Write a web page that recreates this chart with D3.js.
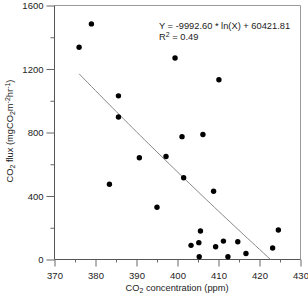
<!DOCTYPE html>
<html><head><meta charset="utf-8">
<script src="https://cdn.jsdelivr.net/npm/d3@7"></script>
<style>body{margin:0;background:#fff}svg{display:block}text{font-family:"Liberation Sans",Arial,sans-serif;fill:#222}</style>
</head><body><svg id="c" width="308" height="296"></svg>
<script>
const co2Conc = [379.0,376.0,385.6,385.6,399.4,410.1,401.1,406.2,383.4,390.7,397.2,395.0,401.5,408.8,405.6,403.3,405.2,405.3,409.3,411.2,412.3,414.7,416.7,423.2,424.6];
const co2Flux = [1484,1337,1031,898,1269,1132,774,787,474,641,649,329,515,430,180,89,106,17,80,116,17,112,38,72,186];
const xTicks = [370,380,390,400,410,420,430];
const yTicks = [0,400,800,1200,1600];
const fitA = -9992.60, fitB = 60421.81, fitR2 = 0.49;
const fitXStart = 376;

const svg = d3.select("#c");
const x = d3.scaleLinear().domain([370,430]).range([54.5,300.5]);
const y = d3.scaleLinear().domain([0,1600]).range([259.5,5.5]);

svg.append("line").attr("x1",x(370)).attr("x2",x(430)).attr("y1",y(1600)).attr("y2",y(1600)).attr("stroke","#999").attr("stroke-width",1);
svg.append("line").attr("x1",x(430)).attr("x2",x(430)).attr("y1",y(1600)).attr("y2",y(0)).attr("stroke","#999").attr("stroke-width",1);

const minorX = d3.range(375,430,10);
const minorY = d3.range(200,1600,400);

const gx = svg.append("g").attr("transform",`translate(0,${y(0)})`)
  .call(d3.axisBottom(x).tickValues(xTicks).tickSize(7).tickPadding(6).tickFormat(d3.format("d")));
const gxm = svg.append("g").attr("transform",`translate(0,${y(0)})`)
  .call(d3.axisBottom(x).tickValues(minorX).tickSize(3).tickFormat(""));
const gy = svg.append("g").attr("transform",`translate(${x(370)},0)`)
  .call(d3.axisLeft(y).tickValues(yTicks).tickSize(8).tickPadding(3).tickFormat(d3.format("d")));
const gym = svg.append("g").attr("transform",`translate(${x(370)},0)`)
  .call(d3.axisLeft(y).tickValues(minorY).tickSize(4).tickFormat(""));
[gx,gxm,gy,gym].forEach(g=>{
  g.selectAll("path,line").attr("stroke","#666");
  g.select(".domain").attr("stroke","#555");
  g.selectAll("text").style("font-family","'Liberation Sans',Arial,sans-serif").style("font-size","9.5px").attr("fill","#333");
});
gx.select(".domain").attr("d",`M${x(370)},0H${x(430)}`);
gxm.select(".domain").remove();
gy.select(".domain").attr("d",`M0,${y(0)}V${y(1600)}`);
gym.select(".domain").remove();

const xEnd = Math.exp(fitB/(-fitA));
const fx = d3.range(fitXStart, xEnd, 1).concat([xEnd]);
svg.append("path")
  .attr("d", d3.line().x(d=>x(d)).y(d=>y(fitA*Math.log(d)+fitB))(fx))
  .attr("fill","none").attr("stroke","#888").attr("stroke-width",1);

svg.append("g").selectAll("circle").data(co2Conc).join("circle")
  .attr("cx",d=>x(d)).attr("cy",(d,i)=>y(co2Flux[i])).attr("r",2.7).attr("fill","#000");

svg.append("text").attr("x",159).attr("y",28.5).style("font-size","9.3px")
  .text(`Y = ${fitA.toFixed(2)} * ln(X) + ${fitB.toFixed(2)}`);
const r2 = svg.append("text").attr("x",159).attr("y",39.5).style("font-size","9.3px");
r2.append("tspan").text("R");
r2.append("tspan").attr("dy",-3).style("font-size","7px").text("2");
r2.append("tspan").attr("dy",3).text(` = ${fitR2.toFixed(2)}`);

const xt = svg.append("text").attr("x",177).attr("y",291).attr("text-anchor","middle").style("font-size","9.3px");
xt.append("tspan").text("CO");
xt.append("tspan").attr("dy",2).style("font-size","7px").text("2");
xt.append("tspan").attr("dy",-2).text(" concentration (ppm)");

const yt = svg.append("text").attr("transform","translate(13,131) rotate(-90)").attr("text-anchor","middle").style("font-size","9.3px");
yt.append("tspan").text("CO");
yt.append("tspan").attr("dy",2).style("font-size","7px").text("2");
yt.append("tspan").attr("dy",-2).text(" flux (mgCO");
yt.append("tspan").attr("dy",2).style("font-size","7px").text("2");
yt.append("tspan").attr("dy",-2).text("m");
yt.append("tspan").attr("dy",-3).style("font-size","7px").text("-2");
yt.append("tspan").attr("dy",3).text("hr");
yt.append("tspan").attr("dy",-3).style("font-size","7px").text("-1");
yt.append("tspan").attr("dy",3).text(")");
</script></body></html>
